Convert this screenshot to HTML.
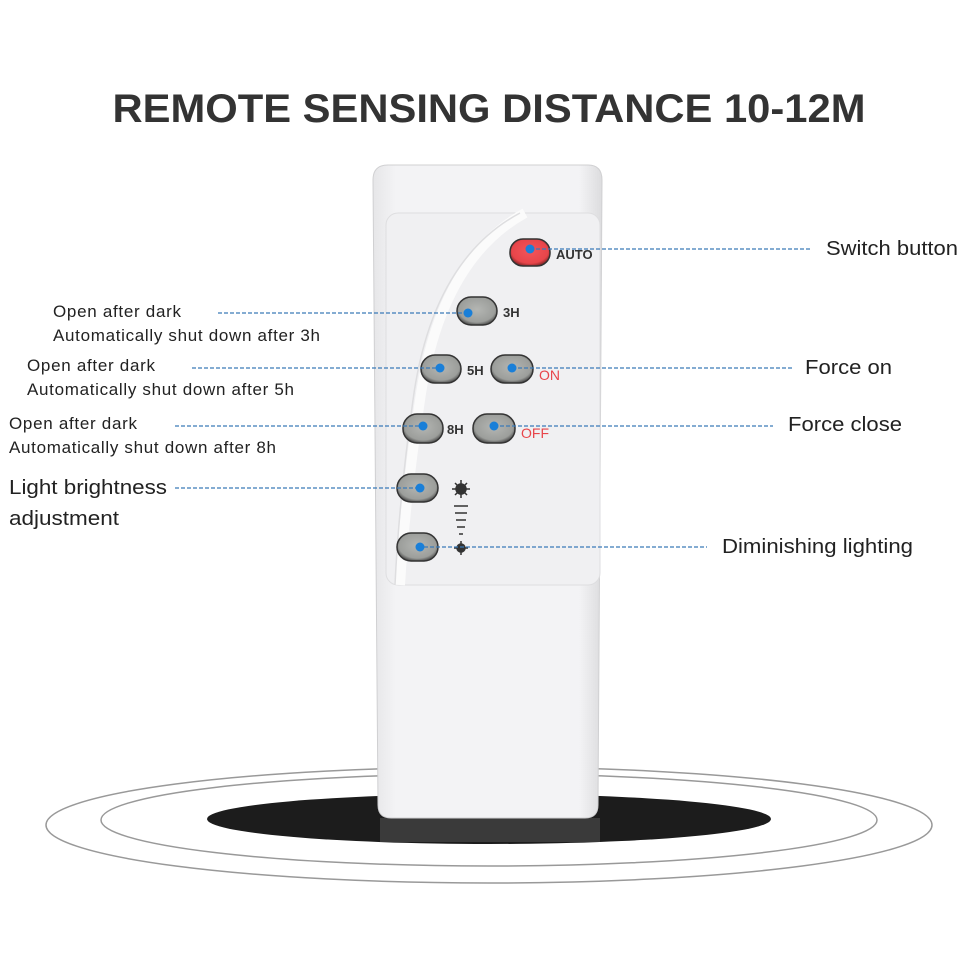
<!DOCTYPE html>
<html><head><style>
body{margin:0;background:#fff;}
svg{display:block;font-family:"Liberation Sans",sans-serif;}
</style></head><body>
<svg width="970" height="970" viewBox="0 0 970 970" xmlns="http://www.w3.org/2000/svg">
<defs>
<linearGradient id="body" x1="0" x2="1" y1="0" y2="0">
<stop offset="0" stop-color="#e6e6e8"/><stop offset="0.1" stop-color="#f3f3f5"/><stop offset="0.9" stop-color="#f3f3f5"/><stop offset="1" stop-color="#dcdcde"/>
</linearGradient>
<radialGradient id="btn" cx="0.5" cy="0.45" r="0.6">
<stop offset="0" stop-color="#b4b6b3"/><stop offset="0.75" stop-color="#9c9e9b"/><stop offset="1" stop-color="#3a3a3a"/>
</radialGradient>
<radialGradient id="red" cx="0.5" cy="0.45" r="0.6">
<stop offset="0" stop-color="#f2555a"/><stop offset="0.75" stop-color="#e8454a"/><stop offset="1" stop-color="#6a2020"/>
</radialGradient>
</defs>
<text x="489" y="122" text-anchor="middle" font-size="40" font-weight="bold" fill="#333" textLength="753" lengthAdjust="spacingAndGlyphs">REMOTE SENSING DISTANCE 10-12M</text>

<ellipse cx="489" cy="825" rx="443" ry="58" fill="none" stroke="#999" stroke-width="1.5"/>
<ellipse cx="489" cy="820" rx="388" ry="46" fill="none" stroke="#999" stroke-width="1.5"/>
<ellipse cx="489" cy="819" rx="282" ry="25" fill="#1c1c1c"/>
<rect x="380" y="818" width="220" height="24" fill="#3a3a3a"/>

<path d="M388,165 H588 Q602,165 602,180 L598,805 Q598,818 585,818 H391 Q378,818 378,805 L373,180 Q373,165 388,165 Z" fill="url(#body)" stroke="#d0d0d2"/>
<rect x="386" y="213" width="214" height="372" rx="12" fill="#f0f0f2" stroke="#dedee0"/>
<path d="M525,213 Q440,260 420,400 Q405,500 400,585" fill="none" stroke="#fbfbfb" stroke-width="10"/>
<path d="M520,213 Q432,260 413,400 Q399,500 395,585" fill="none" stroke="#dedee0" stroke-width="1.5"/>

<g stroke="#333" stroke-width="1.5">
<rect x="510" y="239" width="40" height="27" rx="13" fill="url(#red)"/>
<rect x="457" y="297" width="40" height="28" rx="14" fill="url(#btn)"/>
<rect x="421" y="355" width="40" height="28" rx="14" fill="url(#btn)"/>
<rect x="491" y="355" width="42" height="28" rx="14" fill="url(#btn)"/>
<rect x="403" y="414" width="40" height="29" rx="14" fill="url(#btn)"/>
<rect x="473" y="414" width="42" height="29" rx="14" fill="url(#btn)"/>
<rect x="397" y="474" width="41" height="28" rx="14" fill="url(#btn)"/>
<rect x="397" y="533" width="41" height="28" rx="14" fill="url(#btn)"/>
</g>
<g font-size="13" font-weight="bold" fill="#333">
<text x="556" y="259">AUTO</text>
<text x="503" y="317">3H</text>
<text x="467" y="375">5H</text>
<text x="447" y="434">8H</text>
</g>
<g font-size="14" fill="#e8454a">
<text x="539" y="380">ON</text>
<text x="521" y="438">OFF</text>
</g>
<g stroke="#333" stroke-width="1.5">
<circle cx="461" cy="489" r="5" fill="#333"/>
<line x1="452" y1="489" x2="470" y2="489"/><line x1="461" y1="480" x2="461" y2="498"/>
<line x1="455" y1="483" x2="467" y2="495"/><line x1="467" y1="483" x2="455" y2="495"/>
<line x1="454" y1="506" x2="468" y2="506"/><line x1="455" y1="513" x2="467" y2="513"/><line x1="456" y1="520" x2="466" y2="520"/><line x1="457" y1="527" x2="465" y2="527"/><line x1="459" y1="534" x2="463" y2="534"/>
<circle cx="461" cy="548" r="4" fill="#333"/>
<line x1="454" y1="548" x2="468" y2="548"/><line x1="461" y1="541" x2="461" y2="555"/>
</g>

<g stroke="#3a7ab8" stroke-width="1.2" stroke-dasharray="4,2" fill="none">
<line x1="530" y1="249" x2="812" y2="249"/>
<line x1="218" y1="313" x2="470" y2="313"/>
<line x1="192" y1="368" x2="440" y2="368"/>
<line x1="512" y1="368" x2="792" y2="368"/>
<line x1="175" y1="426" x2="423" y2="426"/>
<line x1="494" y1="426" x2="773" y2="426"/>
<line x1="175" y1="488" x2="420" y2="488"/>
<line x1="418" y1="547" x2="707" y2="547"/>
</g>
<g fill="#1a7fd8">
<circle cx="530" cy="249" r="4.5"/><circle cx="468" cy="313" r="4.5"/><circle cx="440" cy="368" r="4.5"/><circle cx="512" cy="368" r="4.5"/><circle cx="423" cy="426" r="4.5"/><circle cx="494" cy="426" r="4.5"/><circle cx="420" cy="488" r="4.5"/><circle cx="420" cy="547" r="4.5"/>
</g>

<g font-size="17" fill="#222" lengthAdjust="spacingAndGlyphs">
<text x="53" y="317" textLength="128">Open after dark</text>
<text x="53" y="341" textLength="267">Automatically shut down after 3h</text>
<text x="27" y="371" textLength="128">Open after dark</text>
<text x="27" y="395" textLength="267">Automatically shut down after 5h</text>
<text x="9" y="429" textLength="128">Open after dark</text>
<text x="9" y="453" textLength="267">Automatically shut down after 8h</text>
</g>
<g font-size="20" fill="#222">
<text x="9" y="494" textLength="158" lengthAdjust="spacingAndGlyphs">Light brightness</text>
<text x="9" y="525" textLength="110" lengthAdjust="spacingAndGlyphs">adjustment</text>
<text x="826" y="255" textLength="132" lengthAdjust="spacingAndGlyphs">Switch button</text>
<text x="805" y="374" textLength="87" lengthAdjust="spacingAndGlyphs">Force on</text>
<text x="788" y="431" textLength="114" lengthAdjust="spacingAndGlyphs">Force close</text>
<text x="722" y="553" textLength="191" lengthAdjust="spacingAndGlyphs">Diminishing lighting</text>
</g>
</svg>
</body></html>
